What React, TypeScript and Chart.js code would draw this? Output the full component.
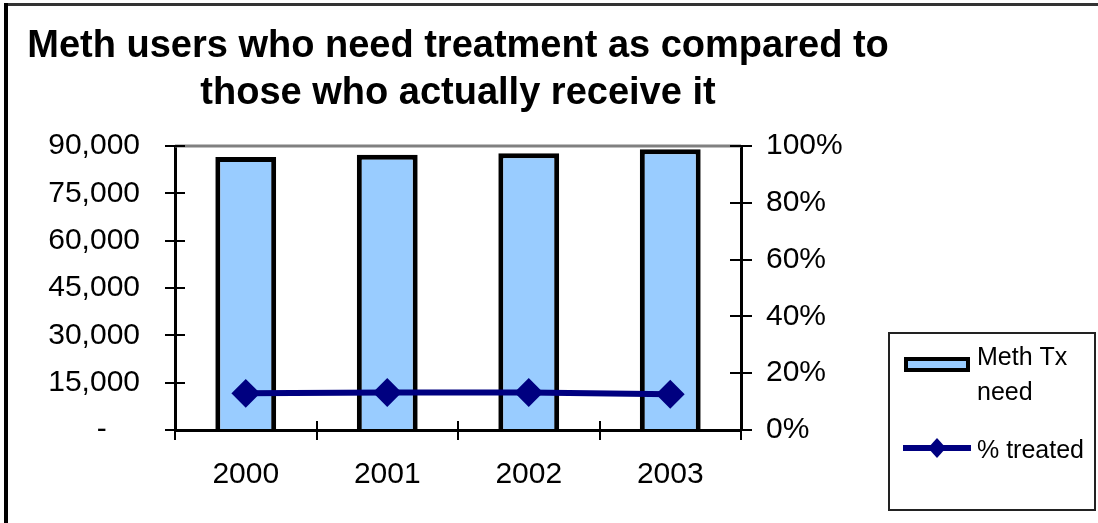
import React, { useEffect, useRef } from "react";
import { Chart, registerables } from "chart.js";

Chart.register(...registerables);

const years = ["2000", "2001", "2002", "2003"];
const txNeed = [86500, 87200, 87700, 89000];
const pctTreated = [0.129, 0.132, 0.132, 0.126];
const leftMax = 90000;
const leftStep = 15000;
const rightMax = 1;
const rightStep = 0.2;
const titleLines = ["Meth users who need treatment as compared to", "those who actually receive it"];
const seriesNames = ["Meth Tx need", "% treated"];
const legendLines = [["Meth Tx", "need"], ["% treated"]];

const FONT = "'Liberation Sans', Arial, Helvetica, sans-serif";
const BAR_FILL = "#99CCFF";
const NAVY = "#000080";

const formatLeft = (v: number) => (v === 0 ? "-    " : v.toLocaleString("en-US"));
const formatRight = (v: number) => `${Math.round(v * 100)}%`;

function line(ctx: CanvasRenderingContext2D, x1: number, y1: number, x2: number, y2: number) {
  ctx.beginPath();
  ctx.moveTo(x1, y1);
  ctx.lineTo(x2, y2);
  ctx.stroke();
}

const decor = {
  id: "decor",
  beforeDraw(chart: any) {
    const ctx: CanvasRenderingContext2D = chart.ctx;
    ctx.save();
    ctx.fillStyle = "#fff";
    ctx.fillRect(0, 0, chart.width, chart.height);
    ctx.strokeStyle = "#333";
    ctx.lineWidth = 3;
    line(ctx, 4, 4.5, chart.width, 4.5);
    ctx.strokeStyle = "#000";
    ctx.lineWidth = 4;
    line(ctx, 6, 3, 6, chart.height);
    ctx.restore();
  },
  afterLayout(chart: any) {
    const t = chart.titleBlock;
    const ca = chart.chartArea;
    if (t && ca) {
      const cx = (ca.left + ca.right) / 2;
      t.left = cx - 540;
      t.right = cx + 540;
      t.width = 1080;
    }
  },
  afterDraw(chart: any) {
    const ctx: CanvasRenderingContext2D = chart.ctx;
    const { left, right, top, bottom } = chart.chartArea;
    ctx.save();
    // top plot-area border
    ctx.strokeStyle = "#808080";
    ctx.lineWidth = 3;
    line(ctx, left, top, right, top);
    // crossing ticks
    ctx.strokeStyle = "#000";
    ctx.lineWidth = 2;
    const y = chart.scales.y;
    y.ticks.forEach((t: any) => {
      const py = Math.round(y.getPixelForValue(t.value));
      line(ctx, left - 10, py, left + 10, py);
    });
    const y1 = chart.scales.y1;
    y1.ticks.forEach((t: any) => {
      const py = Math.round(y1.getPixelForValue(t.value));
      line(ctx, right - 11, py, right + 11, py);
    });
    const x = chart.scales.x;
    for (let i = 0; i <= years.length; i++) {
      const px = Math.round(x.getPixelForValue(i - 0.5));
      line(ctx, px, bottom - 9, px, bottom + 10);
    }
    // legend
    const W = chart.width;
    const bx = W - 209;
    const by = 333;
    ctx.strokeStyle = "#222";
    ctx.lineWidth = 2;
    ctx.strokeRect(bx, by, 206, 177);
    // bar swatch
    ctx.fillStyle = BAR_FILL;
    ctx.fillRect(bx + 15, by + 24, 66, 15);
    ctx.strokeStyle = "#000";
    ctx.lineWidth = 4;
    ctx.strokeRect(bx + 17, by + 26, 62, 11);
    // line swatch
    ctx.strokeStyle = NAVY;
    ctx.lineWidth = 6;
    line(ctx, bx + 14, by + 115, bx + 82, by + 115);
    ctx.fillStyle = NAVY;
    ctx.beginPath();
    const dx = bx + 48, dy = by + 115;
    ctx.moveTo(dx - 9, dy);
    ctx.lineTo(dx, dy - 10);
    ctx.lineTo(dx + 9, dy);
    ctx.lineTo(dx, dy + 10);
    ctx.closePath();
    ctx.fill();
    // texts
    ctx.fillStyle = "#000";
    ctx.font = `25px ${FONT}`;
    ctx.textBaseline = "alphabetic";
    ctx.textAlign = "left";
    ctx.fillText(legendLines[0][0], bx + 88, by + 32);
    ctx.fillText(legendLines[0][1], bx + 88, by + 67);
    ctx.fillText(legendLines[1][0], bx + 88, by + 125);
    ctx.restore();
  },
};

export default function App() {
  const ref = useRef<HTMLCanvasElement | null>(null);

  useEffect(() => {
    if (!ref.current) return;
    Chart.defaults.font.family = FONT;
    const chart = new Chart(ref.current, {
      type: "bar",
      data: {
        labels: years,
        datasets: [
          {
            type: "line",
            label: seriesNames[1],
            data: pctTreated,
            yAxisID: "y1",
            borderColor: NAVY,
            borderWidth: 6,
            backgroundColor: NAVY,
            pointStyle: "rectRot",
            pointRadius: 13,
            pointBackgroundColor: NAVY,
            pointBorderColor: NAVY,
            pointBorderWidth: 2,
            tension: 0,
            order: 0,
          } as any,
          {
            type: "bar",
            label: seriesNames[0],
            data: txNeed,
            yAxisID: "y",
            backgroundColor: BAR_FILL,
            borderColor: "#000",
            borderWidth: 5,
            barPercentage: 0.43,
            categoryPercentage: 1.0,
            order: 1,
          } as any,
        ],
      },
      plugins: [decor],
      options: {
        animation: false,
        responsive: false,
        layout: { padding: { left: 0, right: 237, top: 0, bottom: 0 } },
        plugins: {
          legend: { display: false },
          tooltip: { enabled: false },
          title: {
            display: true,
            text: titleLines,
            color: "#000",
            font: { size: 38, weight: "bold", lineHeight: 1.237, family: FONT },
            padding: { top: 23, bottom: 29 },
          },
        },
        scales: {
          x: {
            grid: { display: false, drawTicks: false },
            border: { display: true, color: "#000", width: 3, z: 1 },
            ticks: { color: "#000", font: { size: 30 }, padding: 27 },
            afterFit: (s: any) => {
              s.height = 93;
            },
          },
          y: {
            position: "left",
            min: 0,
            max: leftMax,
            grid: { display: false, drawTicks: false },
            border: { display: true, color: "#000", width: 3, z: 1 },
            ticks: {
              stepSize: leftStep,
              color: "#000",
              font: { size: 30 },
              padding: 35,
              callback: (v: any) => formatLeft(Number(v)),
            },
            afterFit: (s: any) => {
              s.width = 175;
            },
          },
          y1: {
            position: "right",
            min: 0,
            max: rightMax,
            grid: { display: false, drawTicks: false },
            border: { display: true, color: "#000", width: 3, z: 1 },
            ticks: {
              stepSize: rightStep,
              color: "#000",
              font: { size: 30 },
              padding: 25,
              callback: (v: any) => formatRight(Number(v)),
            },
            afterFit: (s: any) => {
              s.width = 120;
            },
          },
        },
      } as any,
    });
    return () => chart.destroy();
  }, []);

  return (
    <div style={{ position: "fixed", left: 0, top: 0, width: 1098, height: 523, background: "#fff" }}>
      <canvas ref={ref} width={1098} height={523} style={{ display: "block" }} />
    </div>
  );
}
